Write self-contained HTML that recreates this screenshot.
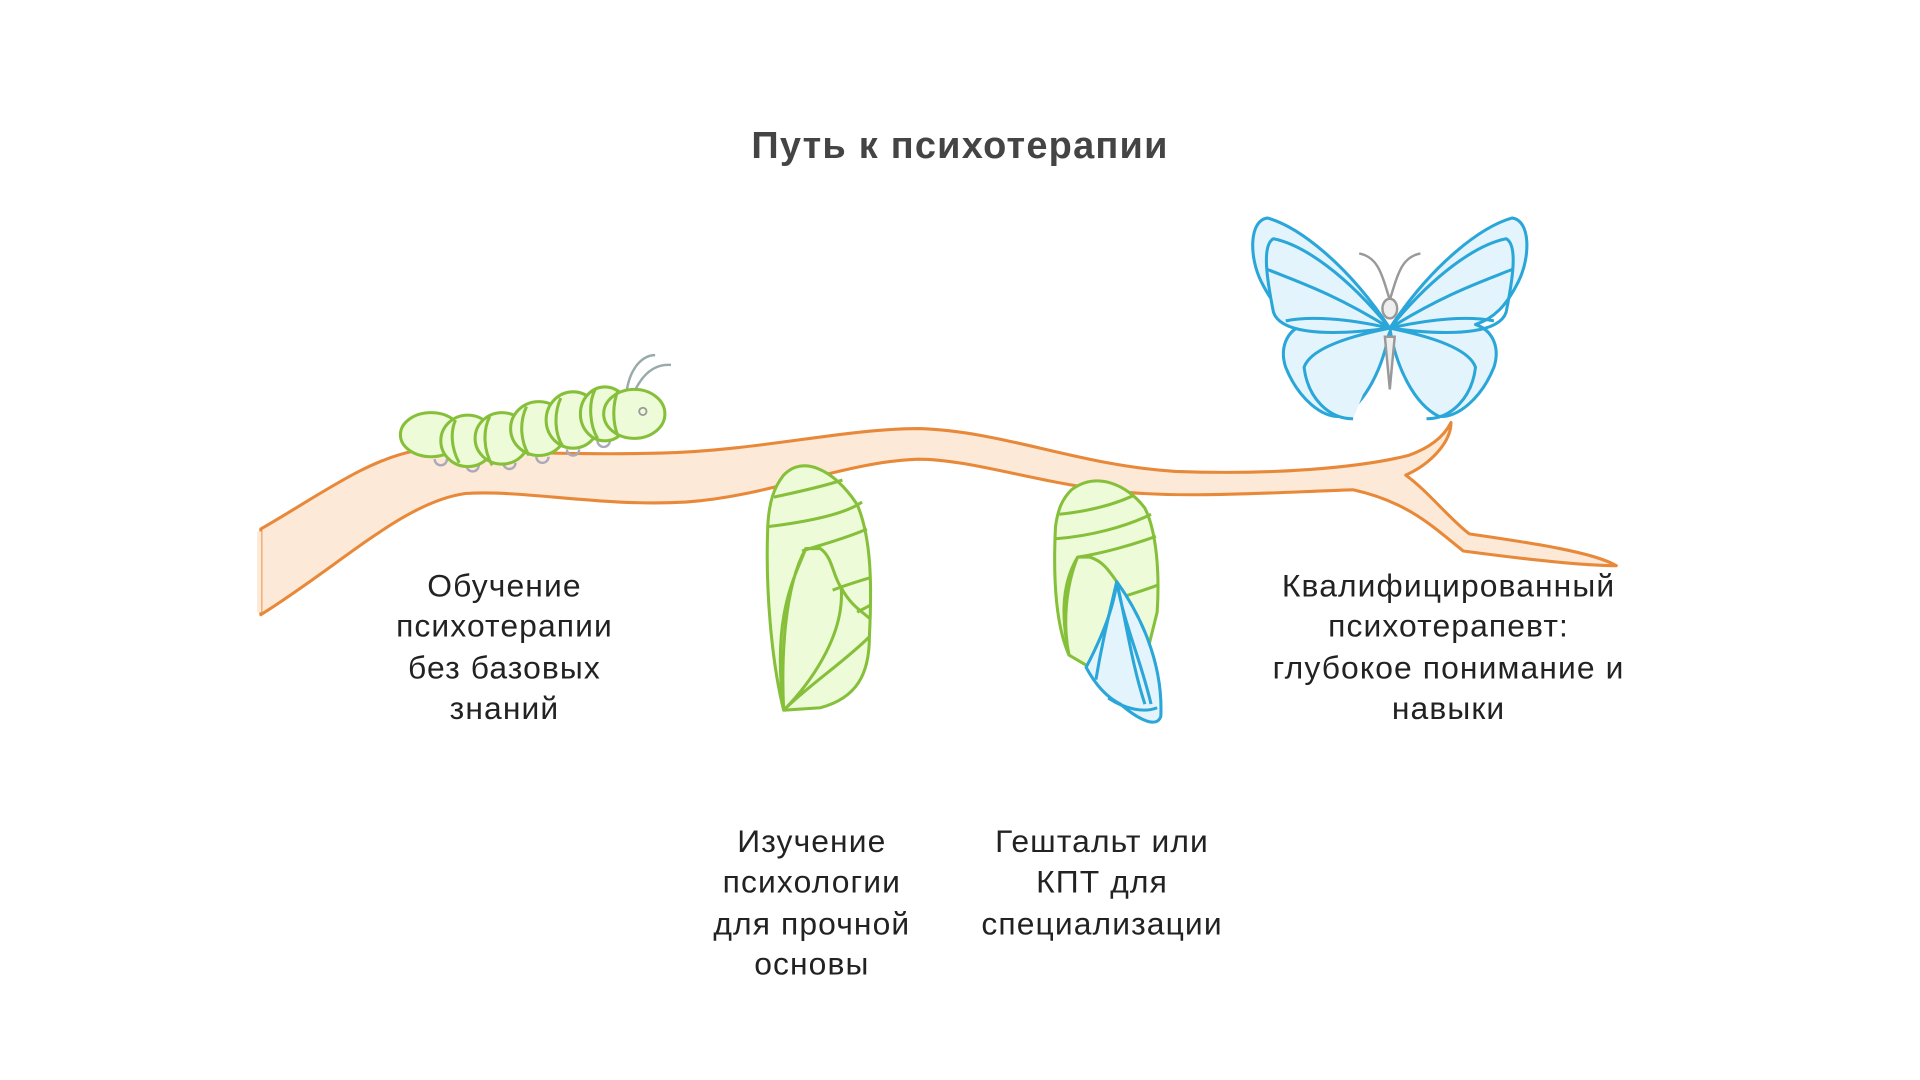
<!DOCTYPE html>
<html><head><meta charset="utf-8"><style>
html,body{margin:0;padding:0;background:#fff;}
svg{display:block;}
text{font-family:"Liberation Sans","DejaVu Sans",sans-serif;fill:#222;}
</style></head><body>
<svg width="1920" height="1080" viewBox="0 0 1568 882" xmlns="http://www.w3.org/2000/svg">
<rect width="1568" height="882" fill="#fff"/>
<text x="784" y="129" text-anchor="middle" font-size="31" font-weight="bold" letter-spacing="1" fill="#444" style="fill:#444">Путь к психотерапии</text>

<!-- branch -->
<path d="M213,432 C260,405 300,375 340,368 C400,368 470,372 540,370 C620,368 690,350 750,350 C820,352 880,380 960,385 C1040,388 1110,382 1150,372 C1170,365 1180,355 1185,345 C1185,360 1170,378 1148,388 C1165,400 1185,425 1200,436 C1240,442 1300,450 1320,462 C1290,462 1240,456 1195,450 C1170,430 1150,410 1105,400 C1040,402 960,408 900,400 C840,392 790,375 750,375 C690,377 630,405 560,410 C490,414 430,400 380,403 C330,410 280,460 213,502 Z" fill="#fde9d7" stroke="#e8893a" stroke-width="2.5" stroke-linejoin="round"/>
<rect x="210" y="434" width="3.5" height="66" fill="#fde9d7"/>

<!-- caterpillar -->
<g stroke="#9aa" stroke-width="2" fill="none">
<path d="M512,318 C515,300 525,290 535,290"/><path d="M518,320 C525,305 535,297 548,298"/>
<g stroke="#aab"><path d="M355,375 a5,5 0 0 0 10,0"/><path d="M381,380 a5,5 0 0 0 10,0"/><path d="M411,378 a5,5 0 0 0 10,0"/><path d="M438,373 a5,5 0 0 0 10,0"/><path d="M463,367 a5,5 0 0 0 10,0"/><path d="M488,360 a5,5 0 0 0 10,0"/></g>
</g>
<g stroke="#86c03a" stroke-width="2.5" fill="#eefbd9">
<ellipse cx="352" cy="355" rx="25" ry="18"/>
<ellipse cx="382" cy="360" rx="22" ry="21"/>
<ellipse cx="410" cy="358" rx="22" ry="21"/>
<ellipse cx="440" cy="350" rx="23" ry="22"/>
<ellipse cx="468" cy="343" rx="22" ry="23"/>
<ellipse cx="494" cy="338" rx="20" ry="22"/>
<ellipse cx="518" cy="338" rx="25" ry="20"/>
<path d="M372,343 C368,352 368,365 375,378 M400,340 C394,352 395,368 402,380 M430,332 C424,345 425,360 432,372 M458,325 C452,338 453,355 460,365 M486,318 C480,330 482,348 488,358 M505,318 C500,330 500,345 505,357" fill="none"/>
</g>
<circle cx="525" cy="336" r="3" fill="none" stroke="#999" stroke-width="1.5"/>

<!-- chrysalis 1 -->
<g stroke="#86c03a" stroke-width="2.5" fill="#eefbd9" stroke-linejoin="round">
<path d="M640,388 C655,372 680,382 700,412 C712,440 712,480 710,520 C710,550 700,570 670,578 L640,580 C630,540 625,480 627,430 C628,410 632,398 640,388 Z"/>
<path d="M632,406 C650,402 670,398 688,392 M628,430 C660,426 690,420 704,410 M655,450 C670,445 690,440 708,432 M680,482 C690,478 700,475 710,472 M700,500 C703,498 708,496 711,494 M687,480 C680,470 680,455 670,448 L658,448 C640,480 638,540 640,580 M658,448 C650,470 630,500 640,580 M687,480 C690,520 660,560 640,580 M687,480 C695,495 705,500 710,505 M710,520 C690,540 660,560 640,580" fill="none"/>
</g>

<!-- chrysalis 2 -->
<g stroke-linejoin="round" stroke-width="2.5">
<path d="M875,400 C895,385 920,395 935,415 C945,435 947,470 945,500 L935,540 C925,560 905,555 890,545 L873,535 C862,510 860,470 862,430 C864,415 868,407 875,400 Z" fill="#eefbd9" stroke="#86c03a"/>
<path d="M865,420 C885,418 905,414 925,405 M862,440 C890,438 920,430 940,420 M880,455 C900,452 925,445 944,438 M910,490 C920,486 935,482 945,478 M912,475 C905,465 900,458 890,455 L880,455 C865,480 868,510 873,535 M880,455 C870,480 868,510 873,535" fill="none" stroke="#86c03a"/>
<path d="M912,475 C930,500 950,540 948,585 C945,595 930,588 915,575 C905,570 895,560 887,545 C900,520 910,495 912,475 Z" fill="#e3f4fc" stroke="#2aa6d8"/>
<path d="M912,475 C905,505 900,525 895,555 M912,475 C920,510 925,545 935,575 M912,475 C918,510 932,540 940,575 M905,570 C920,580 935,582 945,578" fill="none" stroke="#2aa6d8"/>
</g>

<!-- butterfly -->
<g stroke="#2aa6d8" stroke-width="2.5" fill="#e3f4fc" stroke-linejoin="round">
<path d="M1135,268 C1100,215 1060,185 1035,178 C1020,180 1020,210 1030,230 C1040,250 1050,260 1065,265 C1050,270 1045,285 1050,300 C1060,325 1080,342 1095,340 C1115,330 1130,300 1135,268 Z"/>
<path d="M1135,268 C1170,215 1210,185 1235,178 C1250,180 1250,210 1240,230 C1230,250 1220,260 1205,265 C1220,270 1225,285 1220,300 C1210,325 1190,342 1175,340 C1155,330 1140,300 1135,268 Z"/>
<path d="M1135,268 C1100,225 1065,200 1040,195 C1030,200 1035,230 1040,255 C1045,270 1075,276 1135,268 M1135,268 C1100,275 1070,285 1065,300 C1068,325 1085,342 1105,342 M1135,268 C1090,240 1060,230 1035,220 M1135,268 C1100,260 1070,258 1050,262"/>
<path d="M1135,268 C1170,225 1205,200 1230,195 C1240,200 1235,230 1230,255 C1225,270 1195,276 1135,268 M1135,268 C1170,275 1200,285 1205,300 C1202,325 1185,342 1165,342 M1135,268 C1180,240 1210,230 1235,220 M1135,268 C1170,260 1200,258 1220,262" fill="none"/>
</g>
<g stroke="#999" stroke-width="2" fill="#eee">
<path d="M1135,245 C1128,222 1125,210 1110,207 M1135,245 C1142,222 1145,210 1160,207" fill="none"/>
<ellipse cx="1135" cy="252" rx="6" ry="8"/>
<path d="M1131,275 L1135,318 L1139,275 Z"/>
</g>

<!-- labels -->
<g font-size="26" text-anchor="middle" letter-spacing="0.9">
<text x="412" y="487">Обучение</text>
<text x="412" y="520">психотерапии</text>
<text x="412" y="554">без базовых</text>
<text x="412" y="587">знаний</text>
<text x="663" y="696">Изучение</text>
<text x="663" y="729">психологии</text>
<text x="663" y="763">для прочной</text>
<text x="663" y="796">основы</text>
<text x="900" y="696">Гештальт или</text>
<text x="900" y="729">КПТ для</text>
<text x="900" y="763">специализации</text>
<text x="1183" y="487">Квалифицированный</text>
<text x="1183" y="520">психотерапевт:</text>
<text x="1183" y="554">глубокое понимание и</text>
<text x="1183" y="587">навыки</text>
</g>
</svg>
</body></html>
